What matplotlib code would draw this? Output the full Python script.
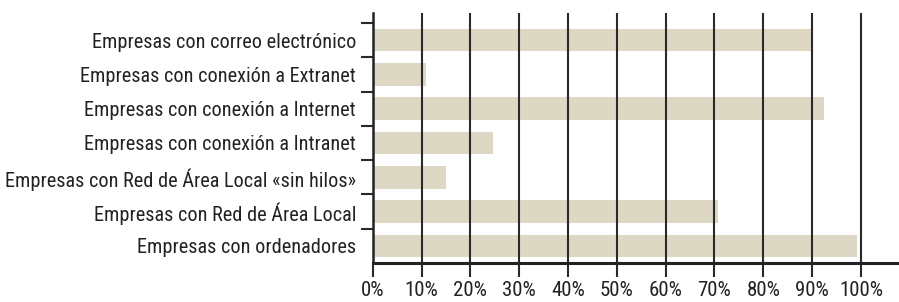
import numpy as np
import matplotlib
matplotlib.use("Agg")
import matplotlib.pyplot as plt
from matplotlib import font_manager

# data, top to bottom as in the chart
categories = [
    "Empresas con correo electrónico",
    "Empresas con conexión a Extranet",
    "Empresas con conexión a Internet",
    "Empresas con conexión a Intranet",
    "Empresas con Red de Área Local «sin hilos»",
    "Empresas con Red de Área Local",
    "Empresas con ordenadores",
]
values = [90.2, 10.9, 92.4, 24.6, 15.1, 70.8, 99.2]
xticks = [0, 10, 20, 30, 40, 50, 60, 70, 80, 90, 100]
xtick_labels = ["%d%%" % t for t in xticks]

# pick a condensed face if there is one
names = {f.name for f in font_manager.fontManager.ttflist}
family = "DejaVu Sans"
for cand in ["Liberation Sans Narrow", "DejaVu Sans Condensed", "Roboto Condensed", "Open Sans Condensed"]:
    if cand in names:
        family = cand
        break
plt.rcParams["font.family"] = [family, "DejaVu Sans"]

fig = plt.figure(figsize=(8.99, 3.02), dpi=100)
ax = fig.add_axes([0.4146, 0.129, 1 - 0.4146, 0.828])

n = len(categories)
ypos = np.arange(n)[::-1]
ax.barh(ypos, values, height=0.66, color="#ddd8c3", zorder=1)

ax.set_xlim(0, 107.8)
ax.set_ylim(-0.5, n - 0.5 + 0.29)

ax.set_xticks(xticks)
ax.set_xticklabels(xtick_labels, fontsize=15, color="#222222")
ax.grid(axis="x", color="#2a2a2a", linewidth=1.5, zorder=3)
ax.set_axisbelow(False)
ax.tick_params(axis="x", direction="out", length=10, width=1.5, color="#2a2a2a", pad=3)

ax.set_yticks(ypos)
ax.set_yticklabels(categories, fontsize=14.6, color="#222222")
ax.set_yticks(np.arange(n) + 0.5, minor=True)
ax.tick_params(axis="y", which="major", length=0, pad=12)
ax.tick_params(axis="y", which="minor", direction="out", length=9, width=1.5, color="#2a2a2a")

for side in ["top", "right"]:
    ax.spines[side].set_visible(False)
ax.spines["left"].set_linewidth(1.8)
ax.spines["left"].set_color("#222222")
ax.spines["bottom"].set_linewidth(2.2)
ax.spines["bottom"].set_color("#222222")
ax.spines["left"].set_zorder(4)
ax.spines["bottom"].set_zorder(4)

fig.savefig("out.png", dpi=100)
